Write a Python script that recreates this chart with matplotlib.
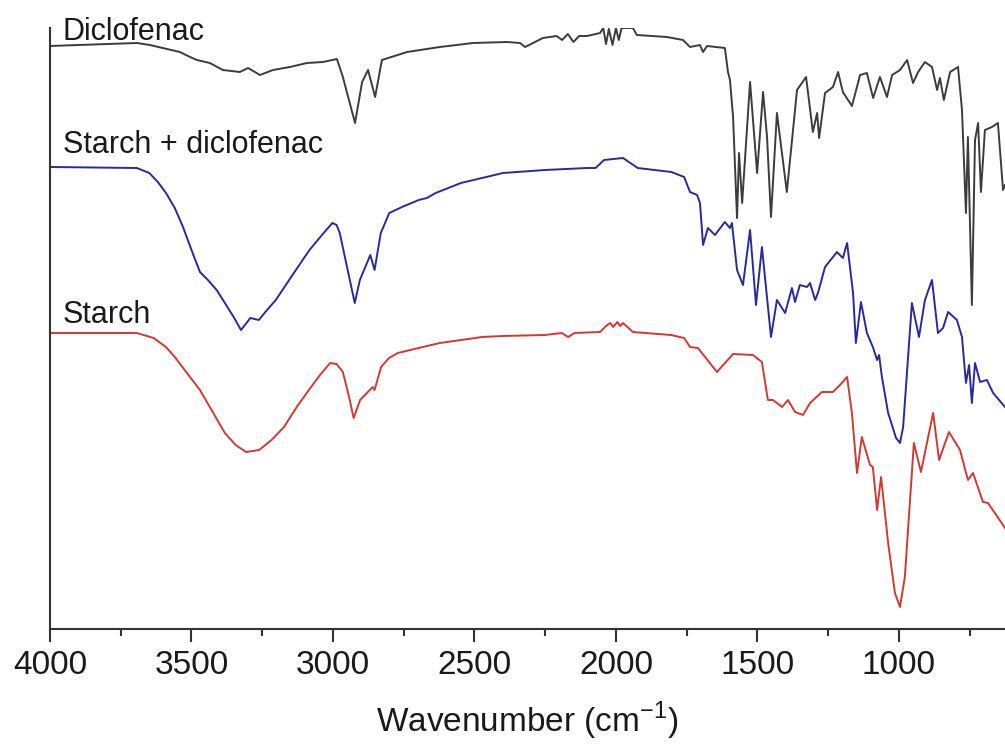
import numpy as np
import matplotlib.pyplot as plt
from matplotlib.ticker import MultipleLocator

plt.rcParams['font.family'] = ['Liberation Sans', 'DejaVu Sans']

# FTIR spectra, transmittance in arbitrary units (curves already offset)
diclo_wn = [4000, 3693, 3647, 3541, 3505, 3481, 3435, 3389, 3329, 3300, 3258, 3212, 3152, 3092,
            3035, 2986, 2965, 2922, 2897, 2876, 2851, 2827, 2738, 2622, 2505, 2385, 2339, 2321,
            2258, 2210, 2190, 2170, 2150, 2130, 2102, 2056, 2045, 2035, 2025, 2012, 2000, 1990,
            1980, 1940, 1926, 1820, 1763, 1738, 1703, 1692, 1678, 1615, 1604, 1597, 1586, 1572,
            1565, 1554, 1526, 1501, 1480, 1466, 1452, 1431, 1396, 1360, 1328, 1304, 1289, 1282,
            1261, 1233, 1215, 1198, 1166, 1137, 1113, 1091, 1067, 1042, 1024, 996, 971, 950, 932,
            908, 883, 865, 855, 841, 819, 791, 777, 763, 756, 742, 731, 720, 710, 696, 671, 650,
            632, 625]
diclo_t = [583, 586, 584, 577, 572, 569, 566, 559, 557, 561, 554, 559, 562, 566,
           567, 570, 552, 506, 547, 559, 532, 569, 577, 582, 586, 587, 586, 582,
           591, 593, 589, 595, 587, 593, 593, 596, 601, 585, 600, 584, 601, 589,
           601, 601, 594, 592, 589, 582, 584, 577, 583, 581, 557, 549, 512, 411,
           476, 426, 547, 456, 537, 492, 412, 516, 437, 539, 552, 497, 516, 491,
           536, 542, 557, 537, 523, 554, 556, 531, 552, 532, 554, 559, 569, 546, 557,
           567, 562, 539, 551, 529, 557, 562, 519, 416, 492, 324, 489, 506, 437, 499, 502, 506,
           439, 444]

mix_wn = [4000, 3693, 3649, 3619, 3590, 3559, 3530, 3500, 3470, 3442, 3411, 3382, 3351, 3325,
          3292, 3262, 3233, 3202, 3143, 3083, 3039, 3002, 2987, 2976, 2923, 2905, 2868, 2853,
          2831, 2801, 2756, 2697, 2668, 2637, 2548, 2473, 2399, 2251, 2176, 2102, 2072, 2042,
          1975, 1923, 1804, 1759, 1738, 1713, 1703, 1692, 1675, 1650, 1615, 1597, 1590, 1572,
          1551, 1526, 1505, 1484, 1452, 1431, 1402, 1378, 1367, 1350, 1325, 1314, 1296, 1286,
          1261, 1219, 1198, 1183, 1162, 1152, 1134, 1113, 1092, 1077, 1070, 1060, 1038, 1010,
          996, 985, 954, 929, 908, 883, 862, 844, 826, 795, 777, 763, 752, 742, 731, 713, 689,
          667, 625]
mix_t = [462, 461, 456, 447, 436, 421, 402, 379, 357, 349, 339, 326, 312, 299,
         311, 309, 319, 329, 354, 379, 394, 406, 404, 396, 326, 349, 374, 359,
         396, 416, 422, 429, 431, 436, 446, 451, 456, 459, 460, 461, 461, 469,
         471, 461, 457, 452, 437, 434, 426, 384, 401, 394, 407, 401, 406, 359,
         344, 399, 324, 382, 292, 329, 316, 341, 327, 344, 342, 346, 329, 336,
         362, 377, 371, 386, 336, 286, 327, 296, 282, 269, 274, 252, 216, 191,
         186, 202, 326, 292, 329, 349, 296, 301, 317, 309, 292, 246, 264, 226, 266, 247, 249,
         236, 222]

starch_wn = [4000, 3693, 3634, 3590, 3559, 3516, 3470, 3425, 3382, 3344, 3307, 3261, 3217, 3173,
             3128, 3085, 3046, 3010, 2987, 2965, 2943, 2927, 2904, 2860, 2853, 2830, 2802, 2771,
             2697, 2622, 2548, 2473, 2399, 2251, 2191, 2169, 2146, 2056, 2035, 2020, 2010, 1995,
             1985, 1975, 1940, 1805, 1759, 1738, 1710, 1643, 1586, 1516, 1484, 1463, 1445, 1413,
             1392, 1367, 1339, 1314, 1272, 1233, 1208, 1183, 1166, 1148, 1131, 1102, 1092, 1077,
             1063, 1038, 1014, 996, 979, 947, 922, 879, 858, 823, 784, 756, 738, 703, 685, 625]
starch_t = [296, 296, 291, 282, 272, 256, 239, 217, 196, 184, 177, 179, 189, 202,
            222, 239, 254, 266, 265, 257, 232, 211, 229, 242, 239, 262, 271, 276,
            281, 286, 289, 292, 293, 294, 296, 292, 296, 297, 303, 306, 302, 307,
            303, 306, 297, 294, 291, 282, 281, 257, 275, 274, 267, 229, 229, 222,
            229, 217, 214, 226, 237, 237, 244, 252, 216, 156, 192, 164, 162, 119,
            152, 86, 36, 22, 52, 186, 157, 216, 169, 197, 179, 149, 156, 127, 126, 101]

labels = ['Diclofenac', 'Starch + diclofenac', 'Starch']
label_y = [589, 476, 306]

fig = plt.figure(figsize=(10.05, 7.46), dpi=100)
ax = fig.add_axes([50 / 1005, 117 / 746, 955 / 1005, 601 / 746])

ax.plot(diclo_wn, diclo_t, color='#3c3c3c', lw=1.4, solid_joinstyle='round')
ax.plot(mix_wn, mix_t, color='#2a2a9e', lw=1.4, solid_joinstyle='round')
ax.plot(starch_wn, starch_t, color='#cf3a36', lw=1.4, solid_joinstyle='round')

for txt, yy in zip(labels, label_y):
    ax.text(3955, yy, txt, fontsize=22, color='#1a1a1a', va='baseline', ha='left')

ax.set_xlim(4000, 625)
ax.set_ylim(0, 601)
ax.xaxis.set_major_locator(MultipleLocator(500))
ax.xaxis.set_minor_locator(MultipleLocator(250))
ax.set_yticks([])
for s in ['top', 'right']:
    ax.spines[s].set_visible(False)
for s in ['left', 'bottom']:
    ax.spines[s].set_linewidth(1.5)
    ax.spines[s].set_color('#333333')
ax.tick_params(axis='x', which='major', length=9, width=1.5, color='#333333',
               labelsize=24, pad=6, labelcolor='#1a1a1a')
ax.tick_params(axis='x', which='minor', length=5, width=1.5, color='#333333')
ax.set_xlabel('Wavenumber (cm$^{\\mathregular{-1}}$)', fontsize=24, color='#1a1a1a',
              labelpad=14)

fig.savefig('out.png', dpi=100)
